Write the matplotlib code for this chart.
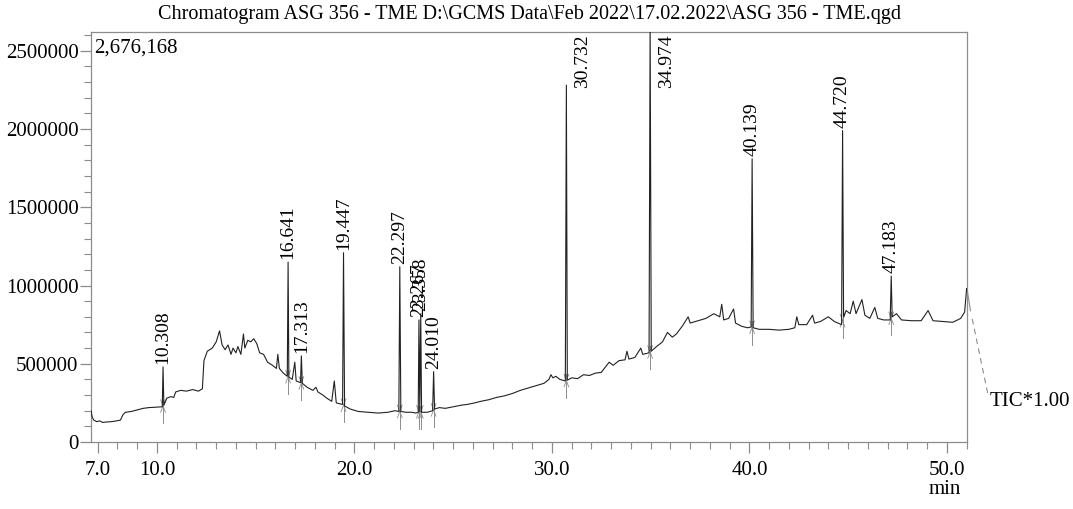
import numpy as np
import matplotlib
matplotlib.use("Agg")
import matplotlib.pyplot as plt
from matplotlib.ticker import FixedLocator, MultipleLocator, FuncFormatter

# ---- chromatogram data -------------------------------------------------
title = r"Chromatogram ASG 356 - TME D:\GCMS Data\Feb 2022\17.02.2022\ASG 356 - TME.qgd"
max_intensity = 2676168

# baseline of the TIC trace (retention time in min, intensity in counts)
base_rt = [6.66, 6.72, 6.80, 6.95, 7.10, 7.25, 7.45, 7.70, 7.95, 8.15, 8.28, 8.40,
           8.70, 9.00, 9.30, 9.60, 9.90, 10.20, 10.27, 10.35, 10.50, 10.70, 10.85,
           10.95, 11.20, 11.50, 11.80, 12.10, 12.30, 12.38, 12.55, 12.80, 13.00,
           13.17, 13.30, 13.45, 13.60, 13.75, 13.85, 14.00, 14.10, 14.25, 14.38,
           14.45, 14.60, 14.75, 14.90, 15.05, 15.20, 15.40, 15.60, 15.85, 16.05,
           16.12, 16.20, 16.40, 16.60, 16.68, 16.85, 16.98, 17.05, 17.27, 17.36,
           17.60, 17.90, 18.05, 18.15, 18.40, 18.60, 18.85, 18.98, 19.08, 19.40,
           19.50, 19.80, 20.20, 20.70, 21.20, 21.70, 22.05, 22.25, 22.35, 22.60,
           22.90, 23.10, 23.23, 23.31, 23.40, 23.70, 23.96, 24.06, 24.30, 24.60,
           25.00, 25.40, 25.70, 26.10, 26.40, 26.80, 27.20, 27.60, 28.00, 28.40,
           28.80, 29.20, 29.60, 29.85, 29.95, 30.05, 30.20, 30.40, 30.68, 30.78,
           31.00, 31.30, 31.60, 31.90, 32.20, 32.50, 32.90, 33.10, 33.40, 33.70,
           33.80, 33.90, 34.20, 34.50, 34.60, 34.92, 35.03, 35.30, 35.60, 35.85,
           36.10, 36.30, 36.60, 36.90, 37.00, 37.40, 37.80, 38.20, 38.50, 38.60,
           38.70, 38.95, 39.20, 39.30, 39.60, 39.90, 40.09, 40.19, 40.50, 41.00,
           41.50, 42.00, 42.30, 42.40, 42.50, 42.90, 43.20, 43.30, 43.60, 44.00,
           44.30, 44.67, 44.77, 44.90, 45.10, 45.26, 45.40, 45.70, 45.85, 46.10,
           46.35, 46.50, 46.80, 47.13, 47.23, 47.45, 47.70, 48.20, 48.70, 49.05,
           49.30, 49.80, 50.30, 50.70, 50.90, 51.00]
base_tic = [200000, 160000, 140000, 130000, 135000, 125000, 128000, 130000, 135000,
            140000, 175000, 190000, 195000, 205000, 215000, 220000, 222000, 225000,
            225000, 235000, 280000, 290000, 285000, 320000, 330000, 325000, 335000,
            325000, 340000, 520000, 580000, 600000, 640000, 710000, 620000, 590000,
            620000, 560000, 600000, 570000, 610000, 560000, 690000, 600000, 650000,
            640000, 660000, 630000, 570000, 560000, 510000, 490000, 470000, 560000,
            470000, 440000, 420000, 415000, 400000, 510000, 390000, 380000, 375000,
            350000, 330000, 350000, 320000, 300000, 280000, 260000, 390000, 250000,
            240000, 230000, 210000, 195000, 190000, 185000, 190000, 200000, 195000,
            195000, 190000, 190000, 185000, 190000, 195000, 190000, 190000, 200000,
            210000, 220000, 215000, 225000, 235000, 240000, 250000, 260000, 270000,
            285000, 295000, 310000, 330000, 345000, 360000, 375000, 400000, 430000,
            410000, 420000, 400000, 390000, 395000, 410000, 405000, 430000, 425000,
            440000, 445000, 510000, 490000, 520000, 525000, 580000, 530000, 540000,
            600000, 560000, 570000, 580000, 610000, 640000, 700000, 670000, 690000,
            740000, 800000, 760000, 775000, 790000, 820000, 800000, 880000, 780000,
            790000, 850000, 760000, 740000, 730000, 735000, 730000, 720000, 720000,
            715000, 720000, 730000, 800000, 750000, 750000, 810000, 760000, 770000,
            800000, 770000, 750000, 800000, 840000, 820000, 900000, 820000, 910000,
            810000, 790000, 860000, 790000, 780000, 780000, 800000, 820000, 780000,
            775000, 775000, 840000, 775000, 770000, 765000, 790000, 830000, 980000]

# integrated peaks: retention time and apex intensity
peak_rt = [10.308, 16.641, 17.313, 19.447, 22.297, 23.267, 23.358, 24.010,
           30.732, 34.974, 40.139, 44.720, 47.183]
peak_tic = [480000, 1150000, 550000, 1210000, 1120000, 780000, 820000, 450000,
            2280000, 2676168, 1810000, 1990000, 1060000]

x_tick_values = [7.0, 10.0, 20.0, 30.0, 40.0, 50.0]
y_tick_values = [0, 500000, 1000000, 1500000, 2000000, 2500000]

# ---- figure -------------------------------------------------------------
serif = ["Liberation Serif", "DejaVu Serif"]
plt.rcParams["font.family"] = serif

W, H, DPI = 1073, 509, 100
fig = plt.figure(figsize=(W / DPI, H / DPI), dpi=DPI)
ax = fig.add_axes([91 / W, (H - 442) / H, (967 - 91) / W, (442 - 32) / H])

x_lo, x_hi = 6.66, 51.02
y_lo, y_hi = 0, 2620000
ax.set_xlim(x_lo, x_hi)
ax.set_ylim(y_lo, y_hi)

# merge baseline and peak apexes into a single trace
rt = np.array(base_rt + peak_rt)
tic = np.array(base_tic + peak_tic)
order = np.argsort(rt, kind="stable")
rt, tic = rt[order], tic[order]
ax.plot(rt, tic, color="#222222", lw=0.8, zorder=3)

# peak integration markers (grey ticks below each peak)
frame_grey = "#8c8c8c"
for p in peak_rt:
    b = np.interp(p, base_rt, base_tic)
    ax.plot([p, p], [b - 110000, b + 40000], color=frame_grey, lw=0.7, zorder=2)
    ax.plot([p - 0.12, p + 0.12], [b - 40000, b + 40000], color=frame_grey, lw=0.6, zorder=2)
    ax.plot([p - 0.12, p + 0.12], [b + 40000, b - 40000], color=frame_grey, lw=0.6, zorder=2)

# retention-time labels above each peak
label_fs = 14
for p, h in zip(peak_rt, peak_tic):
    txt = f"{p:.3f}"
    if h > 0.85 * y_hi:
        ax.annotate(txt, xy=(p, y_hi), xytext=(12, -2), textcoords="offset points",
                    rotation=90, ha="center", va="top", fontsize=label_fs,
                    annotation_clip=False)
    else:
        ax.annotate(txt, xy=(p, h), xytext=(0, 2), textcoords="offset points",
                    rotation=90, ha="center", va="bottom", fontsize=label_fs,
                    annotation_clip=False)

# axes styling
for s in ax.spines.values():
    s.set_color(frame_grey)
    s.set_linewidth(0.9)

ax.xaxis.set_major_locator(FixedLocator(x_tick_values))
ax.xaxis.set_major_formatter(FuncFormatter(lambda v, _: f"{v:.1f}"))
ax.xaxis.set_minor_locator(MultipleLocator(1.0))
ax.yaxis.set_major_locator(FixedLocator(y_tick_values))
ax.yaxis.set_major_formatter(FuncFormatter(lambda v, _: f"{int(v)}"))
ax.yaxis.set_minor_locator(MultipleLocator(100000))

ax.tick_params(axis="both", which="major", direction="out", length=8, width=0.9,
               color=frame_grey, labelsize=15, labelcolor="black")
ax.tick_params(axis="both", which="minor", direction="out", length=5, width=0.8,
               color=frame_grey)
ax.tick_params(axis="x", which="major", pad=6)
ax.tick_params(axis="y", which="major", pad=1)

# header, scale text, axis unit
fig.text(530 / W, 1 - 15 / H, title, ha="center", va="center", fontsize=14.5)
ax.text(0.004, 0.985, f"{max_intensity:,}", transform=ax.transAxes,
        ha="left", va="top", fontsize=15)
fig.text(945 / W, 1 - 490 / H, "min", ha="center", va="center", fontsize=15)

# trace leader running to the TIC tag outside the plot
ax.plot([1.0, 1.004], [0.374, 0.32], transform=ax.transAxes, color=frame_grey,
        lw=0.8, clip_on=False)
ax.plot([1.006, 1.024], [0.30, 0.115], transform=ax.transAxes, color=frame_grey,
        lw=0.8, ls=(0, (5, 4)), clip_on=False)
fig.text(990 / W, 1 - 402 / H, "TIC*1.00", ha="left", va="center", fontsize=15)

fig.savefig("out.png", dpi=DPI)
